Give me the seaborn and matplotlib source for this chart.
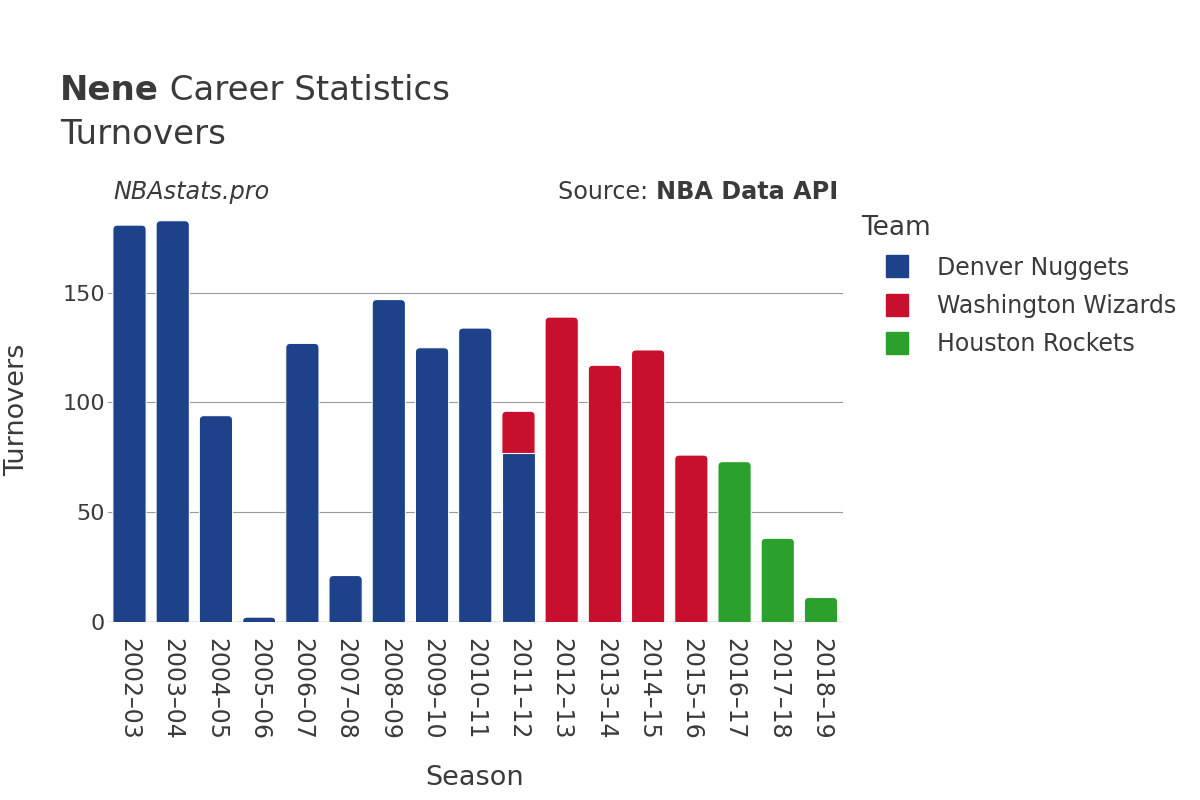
import numpy as np
import pandas as pd
import matplotlib
matplotlib.use("Agg")
import matplotlib.pyplot as plt
import seaborn as sns
from matplotlib.patches import FancyBboxPatch, Rectangle
from matplotlib.lines import Line2D

seasons = ["2002–03", "2003–04", "2004–05", "2005–06", "2006–07", "2007–08",
           "2008–09", "2009–10", "2010–11", "2011–12", "2012–13", "2013–14",
           "2014–15", "2015–16", "2016–17", "2017–18", "2018–19"]
teams = ["Denver Nuggets", "Washington Wizards", "Houston Rockets"]
denver = [181, 183, 94, 2, 127, 21, 147, 125, 134, 77, 0, 0, 0, 0, 0, 0, 0]
washington = [0, 0, 0, 0, 0, 0, 0, 0, 0, 19, 139, 117, 124, 76, 0, 0, 0]
houston = [0, 0, 0, 0, 0, 0, 0, 0, 0, 0, 0, 0, 0, 0, 73, 38, 11]
colors = ["#1D428A", "#C8102E", "#2CA02C"]

TXT = "#3a3a3a"
sns.set_theme(style="white")
plt.rcParams["font.family"] = ["DejaVu Sans"]

fig = plt.figure(figsize=(12, 8), dpi=100)
ax = fig.add_axes([107.9 / 1200, 1 - 621.5 / 800, (842.6 - 107.9) / 1200, (621.5 - 201) / 800])

vals = np.array([denver, washington, houston], dtype=float)
cum = np.cumsum(vals, axis=0)
totals = cum[-1]

for i in reversed(range(len(teams))):
    v = np.where(vals[i] > 0, cum[i], np.nan)
    df = pd.DataFrame({"season": seasons, "value": v}).dropna()
    sns.barplot(data=df, x="season", y="value", order=seasons, color=colors[i],
                saturation=1, width=0.77, edgecolor="white", linewidth=0.8,
                errorbar=None, ax=ax, zorder=3)

ax.set_xlim(-0.5, len(seasons) - 0.5)
ax.set_ylim(0, 192)

# round the top corners of the top-most bar segment in each season
px_x = (842.6 - 107.9) / len(seasons)
px_y = (621.5 - 201) / 192
r_px = 4.5
rx = r_px / px_x
ry = r_px / px_y
rects = [p for p in ax.patches if isinstance(p, Rectangle)]
for p in rects:
    x, y, w, h = p.get_x(), p.get_y(), p.get_width(), p.get_height()
    if np.isnan(h) or h <= 0:
        continue
    idx = int(round(x + w / 2))
    if abs((y + h) - totals[idx]) < 1e-6:
        fc = p.get_facecolor()
        z = p.get_zorder()
        p.remove()
        y0 = y - ry
        fb = FancyBboxPatch((x, y0), w, h + ry,
                            boxstyle=f"round,pad=0,rounding_size={rx}",
                            mutation_aspect=ry / rx, facecolor=fc,
                            edgecolor="white", linewidth=0.8, zorder=z - 0.1)
        ax.add_patch(fb)

ax.set_yticks([0, 50, 100, 150])
ax.yaxis.grid(True, color="#999999", linewidth=0.8, zorder=0)
ax.xaxis.grid(False)
ax.axhline(0, color="#e6e6e6", linewidth=2, zorder=2)
for s in ax.spines.values():
    s.set_visible(False)
ax.tick_params(axis="both", length=0, colors=TXT, labelsize=16)
ax.tick_params(axis="x", pad=12, labelsize=17)
ax.tick_params(axis="y", pad=2)
for lab in ax.get_xticklabels():
    lab.set_rotation(-90)
    lab.set_va("top")
    lab.set_ha("center")
ax.set_xlabel("")
ax.set_ylabel("")

fig.text(17 / 1200, 1 - 410 / 800, "Turnovers", rotation=90, ha="center", va="center",
         fontsize=19.5, color=TXT)
fig.text(475 / 1200, 1 - 778 / 800, "Season", ha="center", va="center",
         fontsize=19.5, color=TXT)

# Title
fig.canvas.draw()
r = fig.canvas.get_renderer()
t1 = fig.text(60 / 1200, 1 - 100 / 800, "Nene", fontsize=24.5, fontweight="bold",
              color=TXT, va="baseline", ha="left")
bb = t1.get_window_extent(renderer=r)
fig.text(bb.x1 / 1200, 1 - 100 / 800, " Career Statistics", fontsize=24.5,
         color=TXT, va="baseline", ha="left")
fig.text(60 / 1200, 1 - 144.5 / 800, "Turnovers", fontsize=24.5, color=TXT,
         va="baseline", ha="left")

fig.text(113 / 1200, 1 - 199 / 800, "NBAstats.pro", fontsize=17.2, style="italic",
         color=TXT, va="baseline", ha="left")
t2 = fig.text(838 / 1200, 1 - 199 / 800, "NBA Data API", fontsize=17.2,
              fontweight="bold", color=TXT, va="baseline", ha="right")
bb2 = t2.get_window_extent(renderer=r)
fig.text(bb2.x0 / 1200, 1 - 199 / 800, "Source: ", fontsize=17.2, color=TXT,
         va="baseline", ha="right")

handles = [Line2D([], [], marker="s", markersize=16, linestyle="", color=c) for c in colors]
leg = fig.legend(handles, teams, title="Team", loc="upper left",
                 bbox_to_anchor=(852 / 1200, 1 - 206 / 800), frameon=False,
                 fontsize=17, title_fontsize=19, alignment="left",
                 handletextpad=0.17, labelspacing=0.6, borderaxespad=0,
                 handlelength=3.05)
for t in leg.get_texts():
    t.set_color(TXT)
leg.get_title().set_color(TXT)

fig.savefig("out.png", dpi=100)
